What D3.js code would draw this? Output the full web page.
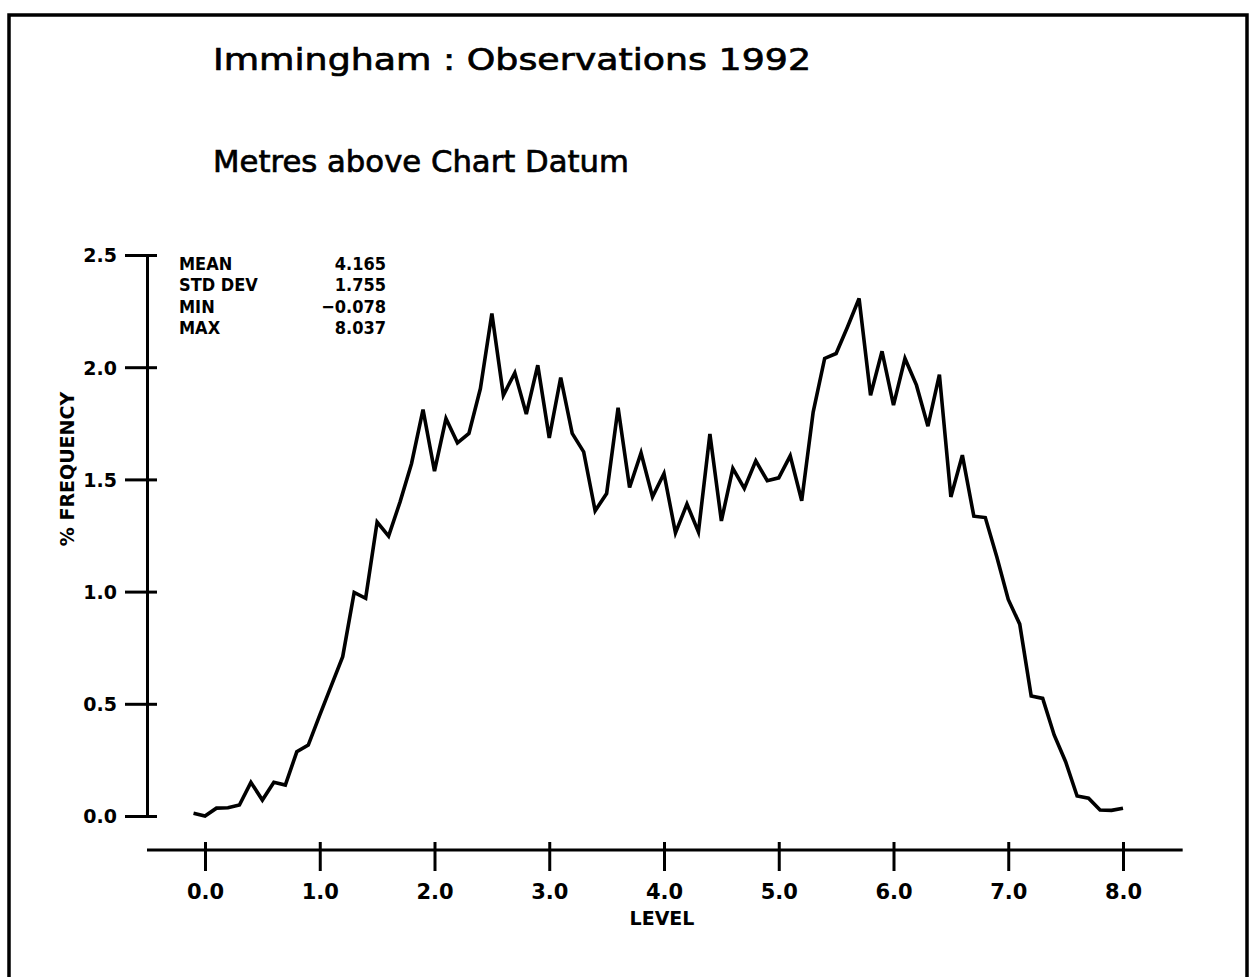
<!DOCTYPE html>
<html>
<head>
<meta charset="utf-8">
<script src="https://cdn.jsdelivr.net/npm/d3@7"></script>
<style>
    body { margin: 0; background: #fff; }
    svg { display: block; }
    .tick text { font-family: "DejaVu Sans", sans-serif; font-weight: bold; fill: #000; }
</style>
</head>
<body>
<svg id="chart"></svg>
<script>
// water level (m above chart datum), one point every 0.1 m
const levels = [
    -0.1, 0.0, 0.1, 0.2, 0.3, 0.4, 0.5, 0.6, 0.7, 0.8, 0.9,
    1.0, 1.1, 1.2, 1.3, 1.4, 1.5, 1.6, 1.7, 1.8, 1.9,
    2.0, 2.1, 2.2, 2.3, 2.4, 2.5, 2.6, 2.7, 2.8, 2.9,
    3.0, 3.1, 3.2, 3.3, 3.4, 3.5, 3.6, 3.7, 3.8, 3.9,
    4.0, 4.1, 4.2, 4.3, 4.4, 4.5, 4.6, 4.7, 4.8, 4.9,
    5.0, 5.1, 5.2, 5.3, 5.4, 5.5, 5.6, 5.7, 5.8, 5.9,
    6.0, 6.1, 6.2, 6.3, 6.4, 6.5, 6.6, 6.7, 6.8, 6.9,
    7.0, 7.1, 7.2, 7.3, 7.4, 7.5, 7.6, 7.7, 7.8, 7.9, 8.0
];

// % frequency
const frequency = [
    0.012, 0.0, 0.035, 0.037, 0.049, 0.15, 0.071, 0.15, 0.138, 0.286, 0.316,
    0.45, 0.58, 0.71, 0.996, 0.97, 1.31, 1.247, 1.40, 1.571, 1.811,
    1.537, 1.771, 1.663, 1.705, 1.905, 2.239, 1.875, 1.975, 1.791, 2.009,
    1.685, 1.954, 1.705, 1.623, 1.36, 1.437, 1.819, 1.464, 1.618, 1.422,
    1.526, 1.262, 1.39, 1.266, 1.702, 1.315, 1.549, 1.46, 1.583, 1.494,
    1.507, 1.605, 1.405, 1.80, 2.039, 2.061, 2.18, 2.306, 1.875, 2.071,
    1.831, 2.039, 1.92, 1.737, 1.967, 1.422, 1.608, 1.336, 1.33, 1.155,
    0.965, 0.855, 0.535, 0.524, 0.361, 0.242, 0.089, 0.079, 0.027, 0.025, 0.035
];

const xTicks = [0, 1, 2, 3, 4, 5, 6, 7, 8];
const yTicks = [0, 0.5, 1.0, 1.5, 2.0, 2.5];

const statNames = ['MEAN', 'STD DEV', 'MIN', 'MAX'];
const statValues = ['4.165', '1.755', '\u22120.078', '8.037'];

const width = 1250;
const height = 977;

const svg = d3.select('#chart')
    .attr('width', width)
    .attr('height', height);

// frame round the plot (no bottom edge in the original)
svg.append('path')
    .attr('d', `M9,${height} L9,15 L1247,15 L1247,${height}`)
    .attr('fill', 'none')
    .attr('stroke', '#000')
    .attr('stroke-width', 3.5);

const x = d3.scaleLinear().domain([0, 8]).range([205, 1123]);
const y = d3.scaleLinear().domain([0, 2.5]).range([816, 255]);

const yAxisX = 147;
const xAxisY = 850;

// y axis, ticks cross the line
const yAxis = svg.append('g')
    .attr('transform', `translate(${yAxisX},0)`)
    .call(d3.axisLeft(y).tickValues(yTicks).tickFormat(d3.format('.1f')).tickSizeOuter(0).tickSizeInner(22).tickPadding(8));
yAxis.select('.domain').attr('stroke', '#000').attr('stroke-width', 3);
yAxis.selectAll('.tick line').attr('x1', 10).attr('stroke', '#000').attr('stroke-width', 3);
yAxis.selectAll('.tick text').attr('font-size', 19).attr('dy', '0.36em');

// x axis: the line runs past the first and last tick
const xAxis = svg.append('g')
    .attr('transform', `translate(0,${xAxisY})`)
    .call(d3.axisBottom(x).tickValues(xTicks).tickFormat(d3.format('.1f')).tickSizeOuter(0).tickSizeInner(21).tickPadding(13));
xAxis.select('.domain').remove();
xAxis.append('line')
    .attr('x1', yAxisX)
    .attr('x2', x(8.52))
    .attr('stroke', '#000')
    .attr('stroke-width', 3);
xAxis.selectAll('.tick line').attr('y1', -8).attr('stroke', '#000').attr('stroke-width', 3);
xAxis.selectAll('.tick text').attr('font-size', 21);

// the frequency curve
const line = d3.line()
    .x((d, i) => x(levels[i]))
    .y(d => y(d));

svg.append('path')
    .datum(frequency)
    .attr('d', line)
    .attr('fill', 'none')
    .attr('stroke', '#000')
    .attr('stroke-width', 3.6)
    .attr('stroke-linejoin', 'miter');

// titles, pen-plotter look: thin outline thickens the strokes
svg.append('text')
    .attr('x', 213)
    .attr('y', 70)
    .attr('font-family', '"DejaVu Sans", sans-serif')
    .attr('font-size', 31)
    .attr('stroke', '#000')
    .attr('stroke-width', 0.7)
    .attr('textLength', 598)
    .attr('lengthAdjust', 'spacingAndGlyphs')
    .text('Immingham : Observations 1992');

svg.append('text')
    .attr('x', 213)
    .attr('y', 172)
    .attr('font-family', '"DejaVu Sans", sans-serif')
    .attr('font-size', 30)
    .attr('stroke', '#000')
    .attr('stroke-width', 0.7)
    .attr('textLength', 416)
    .attr('lengthAdjust', 'spacingAndGlyphs')
    .text('Metres above Chart Datum');

// axis titles
svg.append('text')
    .attr('x', 662)
    .attr('y', 925)
    .attr('text-anchor', 'middle')
    .attr('font-family', '"DejaVu Sans", sans-serif')
    .attr('font-weight', 'bold')
    .attr('font-size', 19)
    .text('LEVEL');

svg.append('text')
    .attr('transform', 'translate(74,469) rotate(-90)')
    .attr('text-anchor', 'middle')
    .attr('font-family', '"DejaVu Sans", sans-serif')
    .attr('font-weight', 'bold')
    .attr('font-size', 19)
    .text('% FREQUENCY');

// summary statistics block
const stats = svg.append('g')
    .attr('font-family', '"DejaVu Sans Condensed", "DejaVu Sans", sans-serif')
    .attr('font-weight', 'bold')
    .attr('font-size', 18);

stats.selectAll('.stat-name')
    .data(statNames)
    .enter()
    .append('text')
    .attr('class', 'stat-name')
    .attr('x', 179)
    .attr('y', (d, i) => 270 + i * 21.4)
    .text(d => d);

stats.selectAll('.stat-value')
    .data(statValues)
    .enter()
    .append('text')
    .attr('class', 'stat-value')
    .attr('x', 386)
    .attr('y', (d, i) => 270 + i * 21.4)
    .attr('text-anchor', 'end')
    .text(d => d);
</script>
</body>
</html>
